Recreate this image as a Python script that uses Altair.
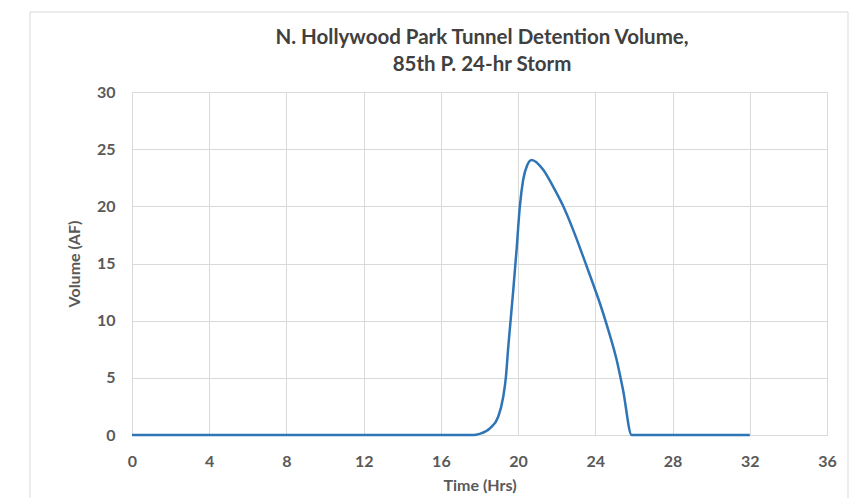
import altair as alt
import pandas as pd

time_hrs = [0, 4, 8, 12, 16, 17.7, 18.0, 18.54, 18.97, 19.23, 19.37, 19.49, 19.61, 19.75, 19.92,
            20.09, 20.26, 20.47, 20.7, 21.3, 21.82, 22.34, 22.86, 23.37, 23.8, 24.24, 24.67,
            25.1, 25.44, 25.88, 28, 32]
volume_af = [0, 0, 0, 0, 0, 0, 0.1, 0.58, 1.6, 3.35, 5.1, 7.7, 10.0, 12.7, 16.2,
             20.0, 22.3, 23.6, 24.06, 23.2, 21.7, 20.0, 17.9, 15.6, 13.6, 11.5, 9.2,
             6.6, 3.9, 0, 0, 0]

title_lines = ["N. Hollywood Park Tunnel Detention Volume,", "85th P. 24-hr Storm"]

df = pd.DataFrame({"t": time_hrs, "v": volume_af})

FONT = "Lato"
GRAY = "#595959"

frame = alt.Chart(pd.DataFrame({"a": [0]})).mark_rect(
    fillOpacity=0, stroke="#d9d9d9", strokeWidth=1, clip=False
).encode(
    x=alt.value(-102), x2=alt.value(716), y=alt.value(-80), y2=alt.value(420)
)

title = alt.Chart(pd.DataFrame({"txt": ["\n".join(title_lines)]})).mark_text(
    font=FONT, fontSize=20.5, fontWeight="bold", color="#404040", align="center",
    baseline="middle", lineBreak="\n", lineHeight=27, clip=False
).encode(
    text="txt:N", x=alt.value(350), y=alt.value(-54)
)

line = alt.Chart(df).mark_line(color="#2E75B6", strokeWidth=2.5, interpolate="monotone").encode(
    x=alt.X("t:Q", scale=alt.Scale(domain=[0, 36], nice=False),
            axis=alt.Axis(values=list(range(0, 37, 4)), title="Time (Hrs)", titlePadding=8,
                          labelPadding=18)),
    y=alt.Y("v:Q", scale=alt.Scale(domain=[0, 30], nice=False),
            axis=alt.Axis(values=list(range(0, 31, 5)), title="Volume (AF)", titlePadding=14,
                          labelPadding=17)),
)

chart = alt.layer(frame, line, title).properties(
    width=695, height=343,
    autosize=alt.AutoSizeParams(type="none"),
    padding={"left": 124, "top": 84, "right": 27, "bottom": 63},
).configure_view(stroke=None).configure_axis(
    labelFont=FONT, labelFontSize=16, labelFontWeight="bold", labelColor=GRAY,
    titleFont=FONT, titleFontSize=16, titleFontWeight="bold", titleColor=GRAY,
    grid=True, gridColor="#d9d9d9", gridWidth=1, ticks=False, domain=False,
    labelFlush=False,
).configure_axisX(domain=True, domainColor="#d9d9d9")

chart.save("out.html", embed_options={"renderer": "svg", "actions": False})
